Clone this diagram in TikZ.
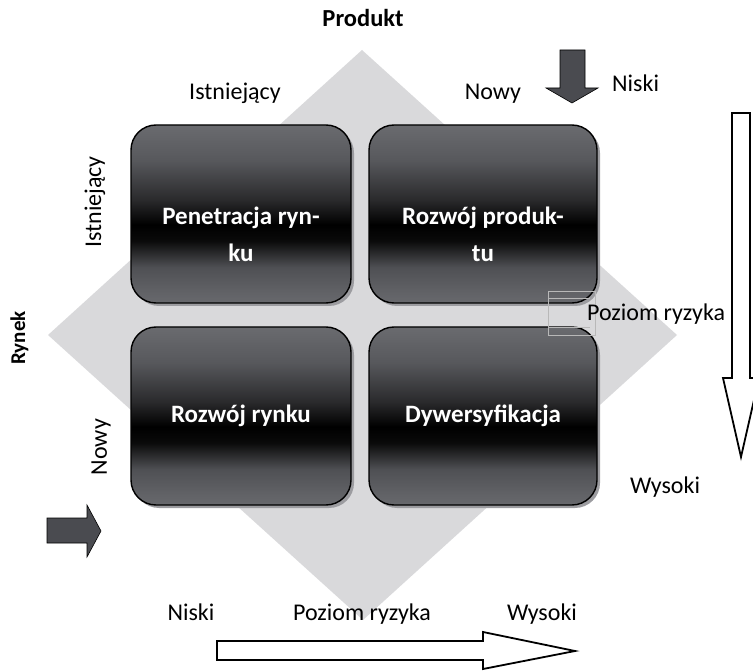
\documentclass[tikz,border=0pt]{standalone}
\usepackage{fontspec}
\setmainfont{Carlito}
\usetikzlibrary{shadows}
\definecolor{diamondgray}{HTML}{D9D9DB}
\definecolor{sA}{HTML}{6A6B6F}
\definecolor{sB}{HTML}{57585C}
\definecolor{sC}{HTML}{2A2A2C}
\definecolor{sD}{HTML}{0A0A0A}
\definecolor{sE}{HTML}{4F5054}
\definecolor{sF}{HTML}{606165}
\definecolor{sG}{HTML}{68696D}
\definecolor{shadowgray}{HTML}{9C9CA0}
\definecolor{darkarrow}{HTML}{4A4B50}
\definecolor{framegray}{HTML}{B8B8B8}
\pgfdeclareverticalshading{boxshade}{100bp}{color(0bp)=(sG); color(25bp)=(sG); color(28.5bp)=(sF); color(35bp)=(sE); color(42.5bp)=(sD); color(47bp)=(black); color(54bp)=(sC); color(65bp)=(sB); color(75bp)=(sA); color(100bp)=(sA)}
\tikzset{
  quad/.style={draw=black, line width=1.4pt, rounded corners=25pt, shading=boxshade,
    drop shadow={shadow xshift=3pt, shadow yshift=-3pt, fill=shadowgray, opacity=1},
    minimum height=178pt, inner sep=0pt},
  quadtext/.style={text=white, font=\bfseries\fontsize{25}{37}\selectfont, align=center},
  lbl/.style={font=\fontsize{24}{28}\selectfont, inner sep=0pt},
  darr/.style={fill=darkarrow, draw=black, line width=0.6pt},
  oarr/.style={fill=white, draw=black, line width=1.8pt},
}
\begin{document}
\begin{tikzpicture}[x=1pt, y=-1pt]
\useasboundingbox (0,0) rectangle (753,671);
\clip (0,0) rectangle (753,671);
% diamond background
\fill[diamondgray] (362,50) coordinate (dT) -- (677,335) coordinate (dR) -- (363,620) coordinate (dB) -- (48,335) coordinate (dL) -- cycle;
% boxes
\node[quad, minimum width=220pt] (pr) at (241,214) {};
\node[quad, minimum width=228pt] (rp) at (483,214) {};
\node[quad, minimum width=220pt] (rr) at (241,416) {};
\node[quad, minimum width=228pt] (dy) at (483,416) {};
\node[quadtext] (prt) at (241,234) {Penetracja ryn-\\ku};
\node[quadtext] (rpt) at (483,234) {Rozwój produk-\\tu};
\node[quadtext] (rrt) at (241,416) {Rozwój rynku};
\node[quadtext] (dyt) at (483,416) {Dywersyfikacja};
% faint text frame
\draw[framegray, line width=0.5pt] (548,291) rectangle (595,335);
\draw[framegray, line width=0.5pt] (548,298) -- (590,298);
\draw[framegray, line width=0.5pt] (548,327) -- (590,327);
% labels
\node[font=\bfseries\fontsize{24.5}{28}\selectfont, anchor=base, inner sep=0pt] (prod) at (363,27) {Produkt};
\node[font=\bfseries\fontsize{21}{24}\selectfont, rotate=90, anchor=base, inner sep=0pt] (ryn) at (25,338) {Rynek};
\node[lbl, anchor=base] (ist1) at (235,100) {Istniejący};
\node[lbl, anchor=base] (now1) at (493,100) {Nowy};
\node[lbl, rotate=90] (ist2) at (95,202) {Istniejący};
\node[lbl, rotate=90] (now2) at (101,447) {Nowy};
\node[lbl, anchor=base west] (nis1) at (612,92) {Niski};
\node[lbl, anchor=base west] (poz1) at (587,320) {Poziom ryzyka};
\node[lbl, anchor=base west] (wys1) at (630,493) {Wysoki};
\node[lbl, anchor=base] (nis2) at (191,620) {Niski};
\node[lbl, anchor=base] (poz2) at (362,620) {Poziom ryzyka};
\node[lbl, anchor=base] (wys2) at (542,620) {Wysoki};
% dark arrows
\draw[darr] (560,50) -- (585,50) -- (585,88) -- (598,88) -- (572,103) -- (546,88) -- (560,88) -- cycle;
\draw[darr] (47,518) -- (87,518) -- (87,505) -- (101,531) -- (87,557) -- (87,543) -- (47,543) -- cycle;
% outline arrows
\draw[oarr] (217,641) -- (483,641) -- (483,632) -- (575,651) -- (483,669) -- (483,660) -- (217,660) -- cycle;
\draw[oarr] (732,113) -- (750,113) -- (750,378) -- (759,378) -- (741,457) -- (723,378) -- (732,378) -- cycle;
\end{tikzpicture}
\end{document}
